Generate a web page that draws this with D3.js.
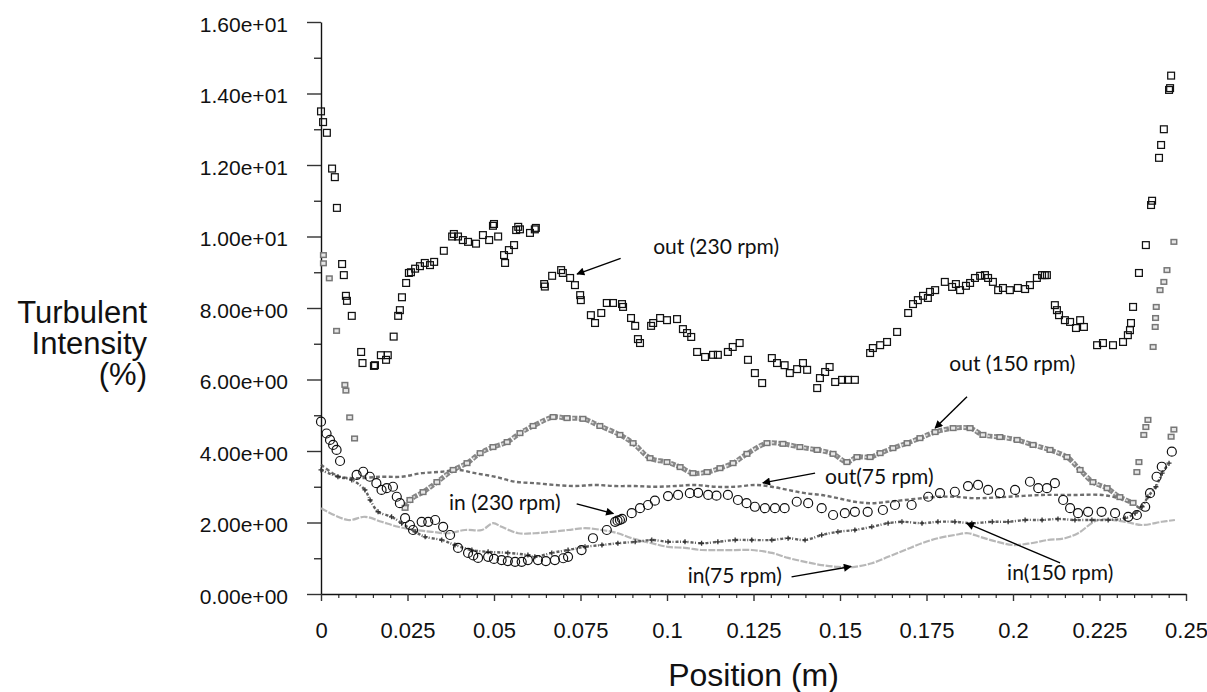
<!DOCTYPE html>
<html>
<head>
<meta charset="utf-8">
<script src="https://cdn.jsdelivr.net/npm/d3@7"></script>
<style>
  html, body { margin: 0; padding: 0; background: #fff; }
  svg { display: block; }
</style>
</head>
<body>
<svg id="chart" width="1207" height="692"></svg>
<script>
// ---------------- DATA ----------------
const xTickValues = [0, 0.025, 0.05, 0.075, 0.1, 0.125, 0.15, 0.175, 0.2, 0.225, 0.25];
const xTickLabels = ["0", "0.025", "0.05", "0.075", "0.1", "0.125", "0.15", "0.175", "0.2", "0.225", "0.25"];
const yTickValues = [0, 2, 4, 6, 8, 10, 12, 14, 16];
const yTickLabels = ["0.00e+00", "2.00e+00", "4.00e+00", "6.00e+00", "8.00e+00", "1.00e+01", "1.20e+01", "1.40e+01", "1.60e+01"];

// out (230 rpm) - open black squares
const out230 = [[0.0000,13.5],[0.0006,13.2],[0.0017,12.9],[0.0032,11.9],[0.0040,11.66],[0.0046,10.8],[0.0061,9.23],[0.0066,8.92],[0.0072,8.34],[0.0075,8.2],[0.0089,7.78],[0.0116,6.77],[0.0120,6.46],[0.0153,6.38],[0.0156,6.4],[0.0173,6.68],[0.0188,6.55],[0.0193,6.68],[0.0210,7.2],[0.0223,7.78],[0.0228,7.94],[0.0234,8.3],[0.0246,8.7],[0.0254,8.98],[0.0260,9.0],[0.0272,9.1],[0.0286,9.17],[0.0300,9.26],[0.0315,9.2],[0.0327,9.29],[0.0355,9.6],[0.0379,10.0],[0.0384,10.07],[0.0396,10.0],[0.0410,9.9],[0.0425,9.85],[0.0448,9.8],[0.0468,10.04],[0.0486,9.9],[0.0497,10.3],[0.0500,10.35],[0.0512,10.0],[0.0529,9.48],[0.0532,9.26],[0.0543,9.62],[0.0558,9.76],[0.0564,10.18],[0.0570,10.27],[0.0575,10.2],[0.0604,10.1],[0.0618,10.2],[0.0621,10.24],
[0.0645,8.67],[0.0647,8.6],[0.0668,8.9],[0.0694,9.06],[0.0699,8.98],[0.0720,8.84],[0.0734,8.64],[0.0749,8.36],[0.0751,8.22],[0.0780,7.8],[0.0792,7.58],[0.0810,7.86],[0.0826,8.14],[0.0844,8.14],[0.0870,8.11],[0.0873,8.03],[0.0896,7.72],[0.0908,7.5],[0.0916,7.13],[0.0922,7.02],[0.0954,7.5],[0.0960,7.58],[0.0980,7.72],[0.1000,7.66],[0.1029,7.69],[0.1046,7.41],[0.1058,7.3],[0.1070,7.19],[0.1087,6.77],[0.1110,6.63],[0.1133,6.69],[0.1147,6.69],[0.1176,6.77],[0.1190,6.91],[0.1210,7.02],[0.1234,6.55],[0.1254,6.18],[0.1275,5.9],[0.1303,6.6],[0.1318,6.46],[0.1340,6.4],[0.1355,6.18],[0.1376,6.29],[0.1393,6.46],[0.1405,6.27],[0.1434,5.76],[0.1442,6.04],[0.1457,6.21],[0.1470,6.35],[0.1486,5.93],[0.1506,5.99],[0.1523,5.99],[0.1543,5.99],[0.1587,6.74],[0.1595,6.88],[0.1616,6.96],[0.1636,7.05],[0.1665,7.33],[0.1697,7.86],[0.1711,8.11],[0.1725,8.22],[0.1740,8.34],[0.1754,8.28],[0.1760,8.45],[0.1775,8.5],[0.1803,8.73],[0.1824,8.59],[0.1835,8.67],[0.1847,8.5],[0.1864,8.62],[0.1876,8.7],[0.1890,8.84],[0.1905,8.9],[0.1919,8.92],[0.1928,8.84],[0.1942,8.73],[0.1957,8.5],[0.1971,8.56],[0.1991,8.5],[0.2014,8.56],[0.2035,8.53],[0.2049,8.64],[0.2069,8.84],[0.2084,8.92],[0.2092,8.92],[0.2098,8.92],
[0.2121,8.08],[0.2127,7.94],[0.2133,7.8],[0.2150,7.66],[0.2165,7.61],[0.2182,7.44],[0.2194,7.66],[0.2205,7.47],[0.2243,6.96],[0.2260,7.02],[0.2289,6.96],[0.2318,7.05],[0.2332,7.24],[0.2338,7.38],[0.2341,7.58],[0.2347,8.03],[0.2364,8.98],[0.2384,9.76],[0.2399,10.88],[0.2402,11.0],[0.2422,12.2],[0.2428,12.56],[0.2436,13.0],[0.2451,14.1],[0.2454,14.15],[0.2457,14.5]];

// out (150 rpm) - small grey squares
const out150Wall = [[0.0007,9.48],[0.0007,9.25],[0.0024,8.83],[0.0045,7.36],[0.0069,5.85],[0.0072,5.69],[0.0083,4.94],[0.0097,4.35]];
const out150 = [[0.0243,2.41],[0.0257,2.63],[0.0295,2.85],[0.0335,3.13],[0.0382,3.47],[0.0422,3.66],[0.0460,3.94],[0.0497,4.11],[0.0538,4.25],[0.0575,4.5],[0.0613,4.7],[0.0671,4.95],[0.0711,4.92],[0.0757,4.9],[0.0806,4.7],[0.0864,4.45],[0.0902,4.22],[0.0951,3.8],[0.1000,3.69],[0.1038,3.55],[0.1075,3.38],[0.1116,3.41],[0.1153,3.52],[0.1191,3.66],[0.1231,3.92],[0.1289,4.22],[0.1335,4.2],[0.1384,4.11],[0.1434,4.03],[0.1480,3.92],[0.1520,3.69],[0.1549,3.83],[0.1587,3.83],[0.1616,3.94],[0.1653,4.08],[0.1694,4.22],[0.1731,4.36],[0.1775,4.53],[0.1827,4.64],[0.1876,4.64],[0.1913,4.45],[0.1962,4.39],[0.2012,4.31],[0.2058,4.17],[0.2107,4.03],[0.2156,3.83],[0.2194,3.47],[0.2231,3.13],[0.2272,2.96],[0.2309,2.71],[0.2347,2.55]];
const out150Right = [[0.2358,3.41],[0.2364,3.69],[0.2378,4.45],[0.2384,4.67],[0.2390,4.87],[0.2405,6.91],[0.2411,7.47],[0.2412,7.72],[0.2414,8.03],[0.2425,8.5],[0.2436,8.73],[0.2445,9.06],[0.2465,9.85],[0.2457,4.4],[0.2465,4.6]];

// in (230 rpm) - open black circles
const in230 = [[0,4.82],[0.0016,4.49],[0.0026,4.31],[0.0035,4.17],[0.0045,4.03],[0.0055,3.72],[0.0103,3.33],[0.0122,3.42],[0.0141,3.28],[0.0160,3.1],[0.0175,2.91],[0.0190,2.96],[0.0208,3.0],[0.0219,2.72],[0.0228,2.54],[0.0243,2.12],[0.0257,1.93],[0.0266,1.79],[0.0291,2.02],[0.0310,2.02],[0.0330,2.07],[0.0353,1.88],[0.0373,1.65],[0.0396,1.29],[0.0425,1.15],[0.0440,1.08],[0.0454,1.01],[0.0483,1.04],[0.0500,0.98],[0.0522,0.95],[0.0540,0.92],[0.0561,0.9],[0.0580,0.9],[0.0598,0.95],[0.0627,0.95],[0.0650,0.92],[0.0676,0.95],[0.0700,1.0],[0.0714,1.04],[0.0753,1.23],[0.0786,1.56],[0.0826,1.79],[0.0850,2.02],[0.0857,2.05],[0.0864,2.07],[0.0870,2.1],[0.0898,2.26],[0.0922,2.4],[0.0945,2.49],[0.0965,2.61],[0.1003,2.74],[0.1032,2.77],[0.1066,2.82],[0.1090,2.83],[0.1119,2.77],[0.1143,2.75],[0.1176,2.77],[0.1205,2.63],[0.1230,2.54],[0.1254,2.44],[0.1283,2.4],[0.1312,2.4],[0.1340,2.4],[0.1375,2.58],[0.1408,2.54],[0.1447,2.4],[0.1480,2.21],[0.1514,2.26],[0.1543,2.3],[0.1580,2.3],[0.1624,2.35],[0.1659,2.49],[0.1707,2.49],[0.1755,2.72],[0.1789,2.82],[0.1832,2.86],[0.1870,3.02],[0.1899,3.05],[0.1928,2.91],[0.1962,2.82],[0.2006,2.91],[0.2049,3.14],[0.2073,2.96],[0.2098,2.96],[0.2121,3.1],[0.2145,2.63],[0.2165,2.4],[0.2188,2.26],[0.2217,2.3],[0.2256,2.3],[0.2295,2.26],[0.2333,2.16],[0.2358,2.21],[0.2382,2.44],[0.2396,2.82],[0.2415,3.28],[0.2430,3.56],[0.2459,3.98]];

// in (150 rpm) - dark "+" markers
const in150 = [[0,3.47],[0.0049,3.28],[0.0089,3.19],[0.0127,2.91],[0.0142,2.63],[0.0165,2.3],[0.0204,2.16],[0.0233,1.98],[0.0272,1.74],[0.0301,1.6],[0.0349,1.51],[0.0387,1.37],[0.0436,1.23],[0.0483,1.18],[0.0540,1.15],[0.0598,1.09],[0.0618,1.04],[0.0667,1.15],[0.0714,1.23],[0.0763,1.32],[0.0812,1.37],[0.0858,1.42],[0.0908,1.46],[0.0956,1.51],[0.1003,1.46],[0.1052,1.46],[0.1100,1.42],[0.1147,1.46],[0.1197,1.51],[0.1245,1.51],[0.1303,1.51],[0.1350,1.56],[0.1399,1.51],[0.1447,1.65],[0.1494,1.74],[0.1543,1.79],[0.1592,1.88],[0.1639,1.98],[0.1679,2.02],[0.1737,1.98],[0.1783,2.02],[0.1832,2.02],[0.1881,1.98],[0.1940,2.02],[0.1986,2.02],[0.2035,2.07],[0.2084,2.07],[0.2130,2.1],[0.2179,2.07],[0.2228,2.07],[0.2275,2.07],[0.2324,2.12],[0.2353,2.26],[0.2373,2.44],[0.2390,2.72],[0.2413,3.0],[0.2431,3.38],[0.2451,3.66]];

// out (75 rpm) - dark dashes
const out75 = [[0,3.62],[0.0049,3.3],[0.0098,3.24],[0.0175,3.28],[0.0233,3.28],[0.0291,3.38],[0.0349,3.42],[0.0396,3.47],[0.0445,3.38],[0.0503,3.28],[0.0561,3.14],[0.0618,3.1],[0.0676,3.05],[0.0734,3.02],[0.0792,3.05],[0.0850,3.02],[0.0908,3.02],[0.0965,3.0],[0.1023,3.02],[0.1081,3.05],[0.1139,3.0],[0.1197,3.0],[0.1254,3.05],[0.1303,3.0],[0.1350,2.91],[0.1399,2.82],[0.1447,2.77],[0.1494,2.68],[0.1543,2.58],[0.1592,2.54],[0.1639,2.58],[0.1688,2.63],[0.1737,2.68],[0.1783,2.72],[0.1832,2.72],[0.1890,2.68],[0.1986,2.72],[0.2084,2.77],[0.2179,2.77],[0.2257,2.77],[0.2304,2.68],[0.2344,2.54],[0.2373,2.35]];

// in (75 rpm) - light grey dashes
const in75 = [[0,2.4],[0.0078,2.07],[0.0127,2.16],[0.0175,2.02],[0.0223,1.88],[0.0272,1.79],[0.0320,1.74],[0.0367,1.7],[0.0416,1.79],[0.0465,1.79],[0.0497,1.98],[0.0522,1.88],[0.0570,1.7],[0.0618,1.7],[0.0667,1.74],[0.0714,1.79],[0.0763,1.84],[0.0812,1.79],[0.0858,1.7],[0.0898,1.56],[0.0956,1.42],[0.1003,1.32],[0.1052,1.29],[0.1100,1.23],[0.1147,1.23],[0.1197,1.23],[0.1245,1.23],[0.1303,1.15],[0.1350,1.01],[0.1399,0.9],[0.1447,0.81],[0.1494,0.76],[0.1543,0.76],[0.1592,0.86],[0.1639,1.04],[0.1688,1.23],[0.1737,1.42],[0.1783,1.56],[0.1832,1.65],[0.1870,1.7],[0.1904,1.6],[0.1954,1.46],[0.2000,1.37],[0.2052,1.42],[0.2100,1.51],[0.2150,1.56],[0.2188,1.7],[0.2246,2.07],[0.2324,2.02],[0.2372,1.93],[0.2430,2.02],[0.2468,2.07]];

// annotations
const annotLabels = ["out (230 rpm)", "out (150 rpm)", "out(75 rpm)", "in (230 rpm)", "in(75 rpm)", "in(150 rpm)"];
const annotTextPos = [[0.0960, 9.5], [0.1816, 6.23], [0.1457, 3.08], [0.0370, 2.35], [0.1060, 0.32], [0.1983, 0.39]];
const annotArrowFrom = [[0.0866, 9.39], [0.1867, 5.52], [0.1428, 3.38], [0.0739, 2.52], [0.1360, 0.48], [0.2136, 0.87]];
const annotArrowTo = [[0.0740, 8.95], [0.1775, 4.64], [0.1277, 3.11], [0.0845, 2.25], [0.1532, 0.77], [0.1866, 1.98]];

// ---------------- CHART ----------------
const svg = d3.select("#chart");
const x = d3.scaleLinear().domain([0, 0.25]).range([321, 1186]);
const y = d3.scaleLinear().domain([0, 16]).range([594, 22]);
const AX = "Liberation Sans, Arial, sans-serif";

// axes
const yMinor = d3.axisLeft(y).tickValues(d3.range(1, 16, 2)).tickSize(7).tickFormat("").tickSizeOuter(0);
svg.append("g").attr("transform", "translate(321,0)").call(yMinor)
  .call(g => g.select(".domain").remove())
  .call(g => g.selectAll("line").attr("stroke", "#333").attr("stroke-width", 1.4));

const yAxis = d3.axisLeft(y).tickValues(yTickValues).tickSize(14).tickPadding(19).tickSizeOuter(0)
  .tickFormat((d, i) => yTickLabels[i]);
svg.append("g").attr("transform", "translate(321,0)").call(yAxis)
  .call(g => g.select(".domain").attr("stroke", "#111").attr("stroke-width", 1.4))
  .call(g => g.selectAll("line").attr("stroke", "#333").attr("stroke-width", 1.4))
  .call(g => g.selectAll("text").attr("font-family", AX).attr("font-size", 21).attr("fill", "#111").attr("dy", "0.43em"));

const xMinor = d3.axisBottom(x).tickValues(d3.range(0, 51).filter(i => i % 5 !== 0).map(i => i * 0.005)).tickSize(4).tickFormat("").tickSizeOuter(0);
svg.append("g").attr("transform", "translate(0,594)").call(xMinor)
  .call(g => g.select(".domain").remove())
  .call(g => g.selectAll("line").attr("stroke", "#333").attr("stroke-width", 1.2));

const xAxis = d3.axisBottom(x).tickValues(xTickValues).tickSize(7).tickPadding(21).tickSizeOuter(0)
  .tickFormat((d, i) => xTickLabels[i]);
svg.append("g").attr("transform", "translate(0,594)").call(xAxis)
  .call(g => g.select(".domain").attr("stroke", "#111").attr("stroke-width", 1.4))
  .call(g => g.selectAll("line").attr("stroke", "#333").attr("stroke-width", 1.4))
  .call(g => g.selectAll("text").attr("font-family", AX).attr("font-size", 22).attr("fill", "#111"));

// axis titles
const yTitle = svg.append("text").attr("font-family", AX).attr("font-size", 31).attr("fill", "#111").attr("text-anchor", "end");
[["Turbulent", 323], ["Intensity", 354], ["(%)", 385]].forEach(([t, b]) => {
  yTitle.append("tspan").attr("x", 147).attr("y", b).text(t);
});
svg.append("text").attr("font-family", AX).attr("font-size", 32).attr("fill", "#111")
  .attr("text-anchor", "middle").attr("x", (x(0) + x(0.25)) / 2).attr("y", 686).text("Position (m)");

// series
const line = d3.line().x(d => x(d[0])).y(d => y(d[1])).curve(d3.curveCatmullRom.alpha(0.5));

// in (75 rpm)
svg.append("path").datum(in75).attr("d", line).attr("fill", "none")
  .attr("stroke", "#b0b0b0").attr("stroke-width", 2.2).attr("stroke-dasharray", "7 1.5").attr("opacity", 0.9);

// out (75 rpm)
svg.append("path").datum(out75).attr("d", line).attr("fill", "none")
  .attr("stroke", "#555").attr("stroke-width", 2.4).attr("stroke-dasharray", "4 2.5").attr("opacity", 0.85);

// in (150 rpm)
svg.append("path").datum(in150).attr("d", line).attr("fill", "none")
  .attr("stroke", "#444").attr("stroke-width", 2.4).attr("stroke-dasharray", "3 1.5 1 2").attr("opacity", 0.85);
svg.append("g").selectAll("path").data(in150).join("path")
  .attr("transform", d => `translate(${x(d[0])},${y(d[1])})`)
  .attr("d", "M-2.5,0H2.5M0,-2.5V2.5").attr("stroke", "#333").attr("stroke-width", 1.3);

// out (150 rpm) chain
svg.append("path").datum(out150).attr("d", line).attr("fill", "none")
  .attr("stroke", "#7a7a7a").attr("stroke-width", 5).attr("stroke-dasharray", "5 1.5").attr("opacity", 0.9);
svg.append("path").datum(out150).attr("d", line).attr("fill", "none")
  .attr("stroke", "#d8d8d8").attr("stroke-width", 1.6).attr("stroke-dasharray", "2.5 4");
const greySq = (sel, data) => sel.selectAll("rect").data(data).join("rect")
  .attr("x", d => x(d[0]) - 2.8).attr("y", d => y(d[1]) - 2.3)
  .attr("width", 5.6).attr("height", 4.6)
  .attr("fill", "#e6e6e6").attr("stroke", "#777").attr("stroke-width", 1.5);
greySq(svg.append("g"), out150);
greySq(svg.append("g"), out150Wall);
greySq(svg.append("g"), out150Right);

// in (230 rpm) circles
svg.append("g").selectAll("circle").data(in230).join("circle")
  .attr("cx", d => x(d[0])).attr("cy", d => y(d[1])).attr("r", 4.5)
  .attr("fill", "none").attr("stroke", "#111").attr("stroke-width", 1.2);

// out (230 rpm) squares
svg.append("g").selectAll("rect").data(out230).join("rect")
  .attr("x", d => x(d[0]) - 3.4).attr("y", d => y(d[1]) - 3.4)
  .attr("width", 6.8).attr("height", 6.8)
  .attr("fill", "none").attr("stroke", "#111").attr("stroke-width", 1.25);

// annotations
const defs = svg.append("defs");
defs.append("marker").attr("id", "ah").attr("viewBox", "0 0 10 10").attr("refX", 9).attr("refY", 5)
  .attr("markerWidth", 11).attr("markerHeight", 8).attr("markerUnits", "userSpaceOnUse").attr("orient", "auto")
  .append("path").attr("d", "M0,0L10,5L0,10Z").attr("fill", "#000");

const ann = svg.append("g");
annotLabels.forEach((t, i) => {
  ann.append("text").attr("x", x(annotTextPos[i][0])).attr("y", y(annotTextPos[i][1]))
    .attr("font-family", "Lato, 'Open Sans', sans-serif").attr("font-size", 21).attr("fill", "#111").text(t);
  ann.append("line")
    .attr("x1", x(annotArrowFrom[i][0])).attr("y1", y(annotArrowFrom[i][1]))
    .attr("x2", x(annotArrowTo[i][0])).attr("y2", y(annotArrowTo[i][1]))
    .attr("stroke", "#000").attr("stroke-width", 1.4).attr("marker-end", "url(#ah)");
});
</script>
</body>
</html>
